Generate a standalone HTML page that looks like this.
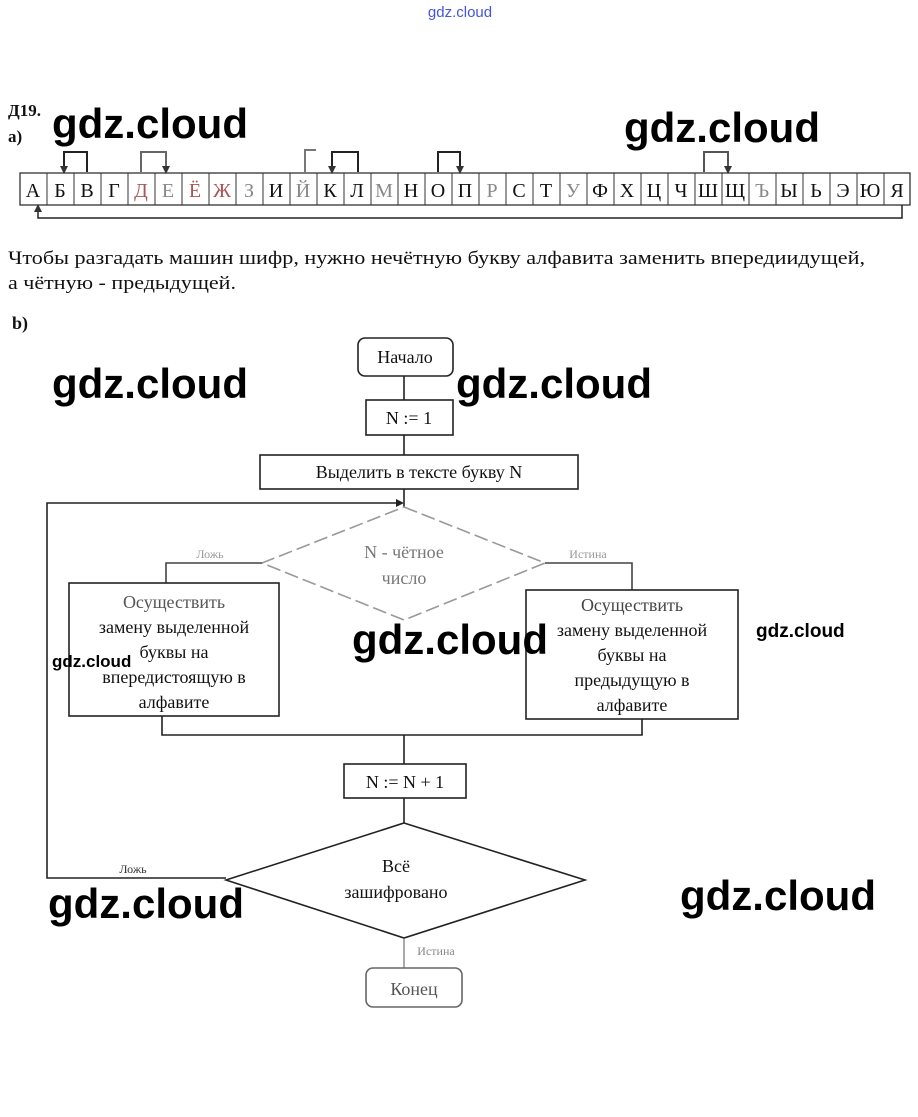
<!DOCTYPE html>
<html><head><meta charset="utf-8"><style>
html,body{margin:0;padding:0;background:#fff;}
svg{display:block;}
.s{font-family:"Liberation Serif",serif;fill:#111;}
.w{font-family:"Liberation Sans",sans-serif;font-weight:bold;fill:#000;}
</style></head><body>
<svg width="918" height="1117" viewBox="0 0 918 1117" xmlns="http://www.w3.org/2000/svg">
<text x="460" y="17" font-family="Liberation Sans,sans-serif" font-size="15" fill="#4455dd" text-anchor="middle">gdz.cloud</text>
<text x="8" y="116" class="s" font-size="17" font-weight="bold">Д19.</text>
<text x="8" y="142" class="s" font-size="17" font-weight="bold">а)</text>
<text x="52" y="138" class="w" font-size="42">gdz.cloud</text>
<text x="624" y="142" class="w" font-size="42">gdz.cloud</text>
<g stroke="#222" stroke-width="2" fill="none">
<rect x="20" y="173" width="890" height="32" stroke-width="1.2"/>
<path d="M87,172 V152 H64 V168"/><path d="M141,172 V152 H166 V168" stroke="#666"/>
<path d="M305,172 V150 H316" stroke="#777"/><path d="M358,172 V152 H332 V168"/>
<path d="M438,172 V152 H460 V168" /><path d="M704,172 V152 H728 V168" stroke="#555"/>
<path d="M902,205 V218 H38 V210" stroke-width="1.5"/>
</g>
<path d="M60,166 L68,166 L64,174z M328,166 L336,166 L332,174z M456,166 L464,166 L460,174z M162,166 L170,166 L166,174z M724,166 L732,166 L728,174z M34,212 L42,212 L38,204z" fill="#333"/>
<g stroke="#333" stroke-width="1" fill="none">
<path d="M47,173V205M74,173V205M101,173V205M128,173V205M155,173V205M182,173V205M209,173V205M236,173V205M263,173V205M290,173V205M317,173V205M344,173V205M371,173V205M398,173V205M425,173V205M452,173V205M479,173V205M506,173V205M533,173V205M560,173V205M587,173V205M614,173V205M641,173V205M668,173V205M695,173V205M722,173V205M749,173V205M776,173V205M803,173V205M830,173V205M857,173V205M884,173V205"/>
</g>
<g class="s" font-size="20" text-anchor="middle">
<text x="33" y="197">А</text><text x="60" y="197">Б</text><text x="87" y="197">В</text><text x="114" y="197">Г</text><text x="141" y="197" fill="#a55">Д</text><text x="168" y="197" fill="#888">Е</text><text x="195" y="197" fill="#a55">Ё</text><text x="222" y="197" fill="#a55">Ж</text><text x="249" y="197" fill="#888">З</text><text x="276" y="197">И</text><text x="303" y="197" fill="#888">Й</text><text x="330" y="197">К</text><text x="357" y="197">Л</text><text x="384" y="197" fill="#888">М</text><text x="411" y="197">Н</text><text x="438" y="197">О</text><text x="465" y="197">П</text><text x="492" y="197" fill="#888">Р</text><text x="519" y="197">С</text><text x="546" y="197">Т</text><text x="573" y="197" fill="#888">У</text><text x="600" y="197">Ф</text><text x="627" y="197">Х</text><text x="654" y="197">Ц</text><text x="681" y="197">Ч</text><text x="708" y="197">Ш</text><text x="735" y="197">Щ</text><text x="762" y="197" fill="#888">Ъ</text><text x="789" y="197">Ы</text><text x="816" y="197">Ь</text><text x="843" y="197">Э</text><text x="870" y="197">Ю</text><text x="897" y="197">Я</text>
</g>
<text x="8" y="264" class="s" font-size="19" fill="#333" textLength="857" lengthAdjust="spacingAndGlyphs">Чтобы разгадать машин шифр, нужно нечётную букву алфавита заменить впередиидущей,</text>
<text x="8" y="289" class="s" font-size="19" fill="#333" textLength="228" lengthAdjust="spacingAndGlyphs">а чётную - предыдущей.</text>
<text x="12" y="329" class="s" font-size="18" font-weight="bold">b)</text>
<g stroke="#222" stroke-width="1.6" fill="none">
<rect x="358" y="338" width="95" height="38" rx="7"/>
<rect x="366" y="400" width="87" height="35"/>
<rect x="260" y="455" width="318" height="34"/>
<path d="M404,376V400M404,435V455M404,489V507"/>
<path d="M404,507 L545,563 L404,620 L262,563Z" stroke="#999" stroke-dasharray="14 5"/>
<path d="M262,563H166V583M545,563H632V590" stroke="#444"/>
<rect x="69" y="583" width="210" height="133"/>
<rect x="526" y="590" width="212" height="129"/>
<path d="M162,716V735H642V719M404,735V764"/>
<rect x="344" y="764" width="122" height="34"/>
<path d="M404,798V823"/>
<path d="M404,823 L585,880 L404,938 L226,880Z"/>
<path d="M226,878H47V503H400"/>
<path d="M404,938V968" stroke="#555" stroke-width="1"/>
<rect x="366" y="968" width="96" height="39" rx="7" stroke="#666"/>
</g>
<path d="M396,499 L404,503 L396,507z" fill="#222"/>
<g class="s" text-anchor="middle" font-size="18">
<text x="405" y="363">Начало</text>
<text x="409" y="424">N := 1</text>
<text x="419" y="478">Выделить в тексте букву N</text>
<text x="404" y="558" fill="#777">N - чётное</text>
<text x="404" y="584" fill="#777">число</text>
<text x="174" y="608" fill="#555">Осуществить</text>
<text x="174" y="633">замену выделенной</text>
<text x="174" y="658">буквы на</text>
<text x="174" y="683">впередистоящую в</text>
<text x="174" y="708">алфавите</text>
<text x="632" y="611" fill="#444">Осуществить</text>
<text x="632" y="636">замену выделенной</text>
<text x="632" y="661">буквы на</text>
<text x="632" y="686">предыдущую в</text>
<text x="632" y="711">алфавите</text>
<text x="405" y="788">N := N + 1</text>
<text x="396" y="872">Всё</text>
<text x="396" y="898">зашифровано</text>
<text x="414" y="995" fill="#555">Конец</text>
<text x="210" y="558" font-size="12" fill="#999">Ложь</text>
<text x="588" y="558" font-size="12" fill="#999">Истина</text>
<text x="133" y="873" font-size="12" fill="#333">Ложь</text>
<text x="436" y="955" font-size="12" fill="#888">Истина</text>
</g>
<text x="52" y="398" class="w" font-size="42">gdz.cloud</text>
<text x="456" y="398" class="w" font-size="42">gdz.cloud</text>
<text x="352" y="654" class="w" font-size="42">gdz.cloud</text>
<text x="756" y="637" class="w" font-size="19">gdz.cloud</text>
<text x="52" y="667" class="w" font-size="17">gdz.cloud</text>
<text x="48" y="918" class="w" font-size="42">gdz.cloud</text>
<text x="680" y="910" class="w" font-size="42">gdz.cloud</text>
</svg>
</body></html>
